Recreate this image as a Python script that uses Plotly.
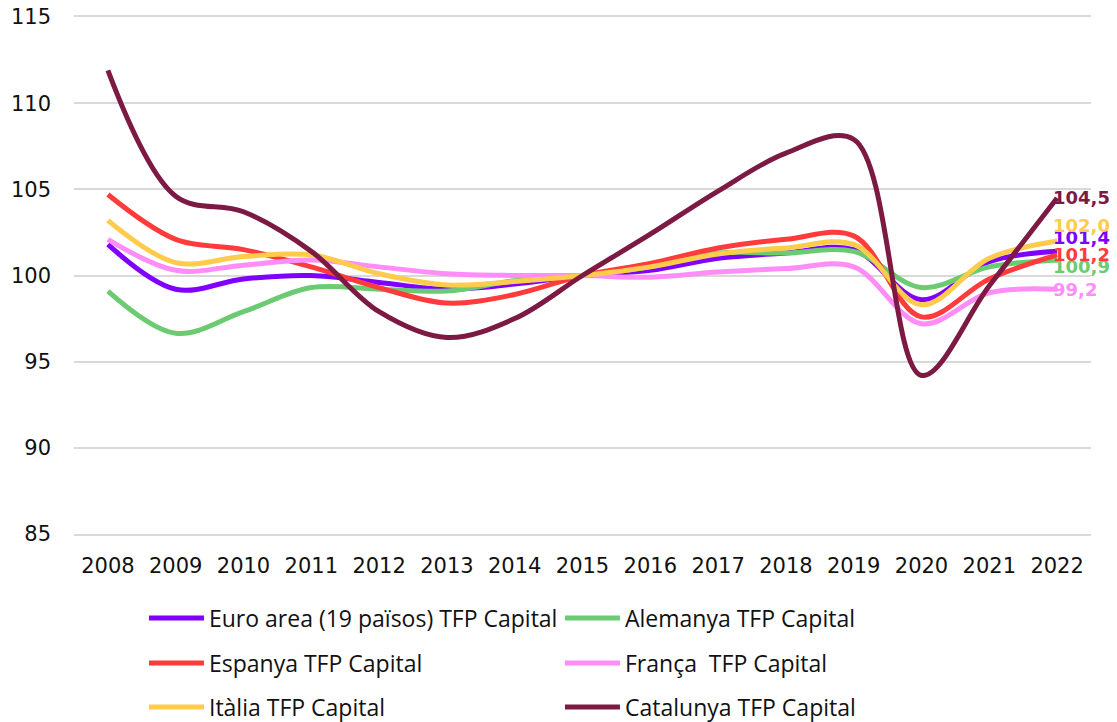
import plotly.graph_objects as go

# Years on the category axis
years = [str(y) for y in range(2008, 2023)]

# TFP Capital index (2015 = 100) by territory
euro_area = [101.8, 99.2, 99.8, 100.0, 99.6, 99.2, 99.5, 100.0, 100.3, 101.0, 101.3, 101.5, 98.6, 100.8, 101.4]
alemanya = [99.1, 96.65, 97.9, 99.3, 99.2, 99.1, 99.7, 100.0, 100.5, 101.3, 101.3, 101.4, 99.3, 100.5, 100.9]
espanya = [104.7, 102.1, 101.5, 100.5, 99.3, 98.4, 98.9, 100.0, 100.7, 101.6, 102.1, 102.3, 97.6, 99.8, 101.2]
franca = [102.1, 100.3, 100.6, 100.9, 100.5, 100.1, 100.0, 100.0, 99.9, 100.2, 100.4, 100.5, 97.2, 99.0, 99.2]
italia = [103.2, 100.75, 101.1, 101.2, 100.1, 99.45, 99.65, 100.0, 100.5, 101.25, 101.6, 101.8, 98.3, 101.0, 102.0]
catalunya = [111.9, 104.6, 103.7, 101.4, 97.9, 96.4, 97.5, 100.0, 102.4, 104.9, 107.1, 107.9, 94.2, 99.4, 104.5]

series_names = [
    "Euro area (19 països) TFP Capital",
    "Alemanya TFP Capital",
    "Espanya TFP Capital",
    "França  TFP Capital",
    "Itàlia TFP Capital",
    "Catalunya TFP Capital",
]
series_values = [euro_area, alemanya, espanya, franca, italia, catalunya]

# Styling per series
colors = ["#8000FF", "#6CCB72", "#FF3B3B", "#FF8DF7", "#FFCB4A", "#7C1A44"]
legend_ids = ["legend", "legend", "legend2", "legend2", "legend3", "legend3"]
label_yshift = [14, -7, 0, 0, 16, 0]  # nudges so end labels do not collide

GRID = "#D9D9D9"
TICK_FONT = dict(family="DejaVu Sans", size=21, color="#111111")
LEGEND_FONT = dict(family="Open Sans", size=23, color="#111111")

fig = go.Figure()

for name, vals, col, lg in zip(series_names, series_values, colors, legend_ids):
    fig.add_trace(go.Scatter(
        x=years, y=vals, name=name, mode="lines",
        line=dict(color=col, width=5, shape="spline", smoothing=1.0),
        legend=lg, hoverinfo="skip",
    ))

# Value labels at the last year (category index of the final year)
last_idx = len(years) - 1
for vals, col, dy in zip(series_values, colors, label_yshift):
    fig.add_annotation(
        x=last_idx, y=vals[-1], text=f"{vals[-1]:.1f}".replace(".", ","),
        xref="x", yref="y", showarrow=False, xanchor="left", yanchor="middle",
        xshift=-6, yshift=dy,
        font=dict(family="DejaVu Sans", size=18, color=col, weight="bold"),
    )

# Three one-row legends stacked under the chart, two entries per row
legend_common = dict(
    orientation="h", xanchor="left", yanchor="middle", x=0.0688,
    yref="container", entrywidth=346, entrywidthmode="pixels",
    font=LEGEND_FONT, bgcolor="rgba(0,0,0,0)", itemwidth=55,
    traceorder="normal",
)

fig.update_layout(
    width=1117, height=722,
    margin=dict(l=74, r=26, t=17, b=188, autoexpand=False),
    paper_bgcolor="white", plot_bgcolor="white",
    legend=dict(**legend_common, y=1 - 618 / 722),
    legend2=dict(**legend_common, y=1 - 663 / 722),
    legend3=dict(**legend_common, y=1 - 707 / 722),
    xaxis=dict(
        type="category", showgrid=False, zeroline=False,
        # bottom and top edge lines stand in for the 85 and 115 gridlines
        showline=True, mirror=True, linecolor=GRID, linewidth=1.5,
        ticks="", tickfont=TICK_FONT, ticklabelstandoff=12, automargin=False,
        range=[-0.5, len(years) - 0.5],
    ),
    yaxis=dict(
        range=[85, 115], dtick=5, tick0=85, showgrid=True, gridcolor=GRID,
        gridwidth=1.5, zeroline=False, showline=False, ticks="", automargin=False,
        tickfont=TICK_FONT, ticklabelstandoff=22,
    ),
)

fig.write_html("out.html")
